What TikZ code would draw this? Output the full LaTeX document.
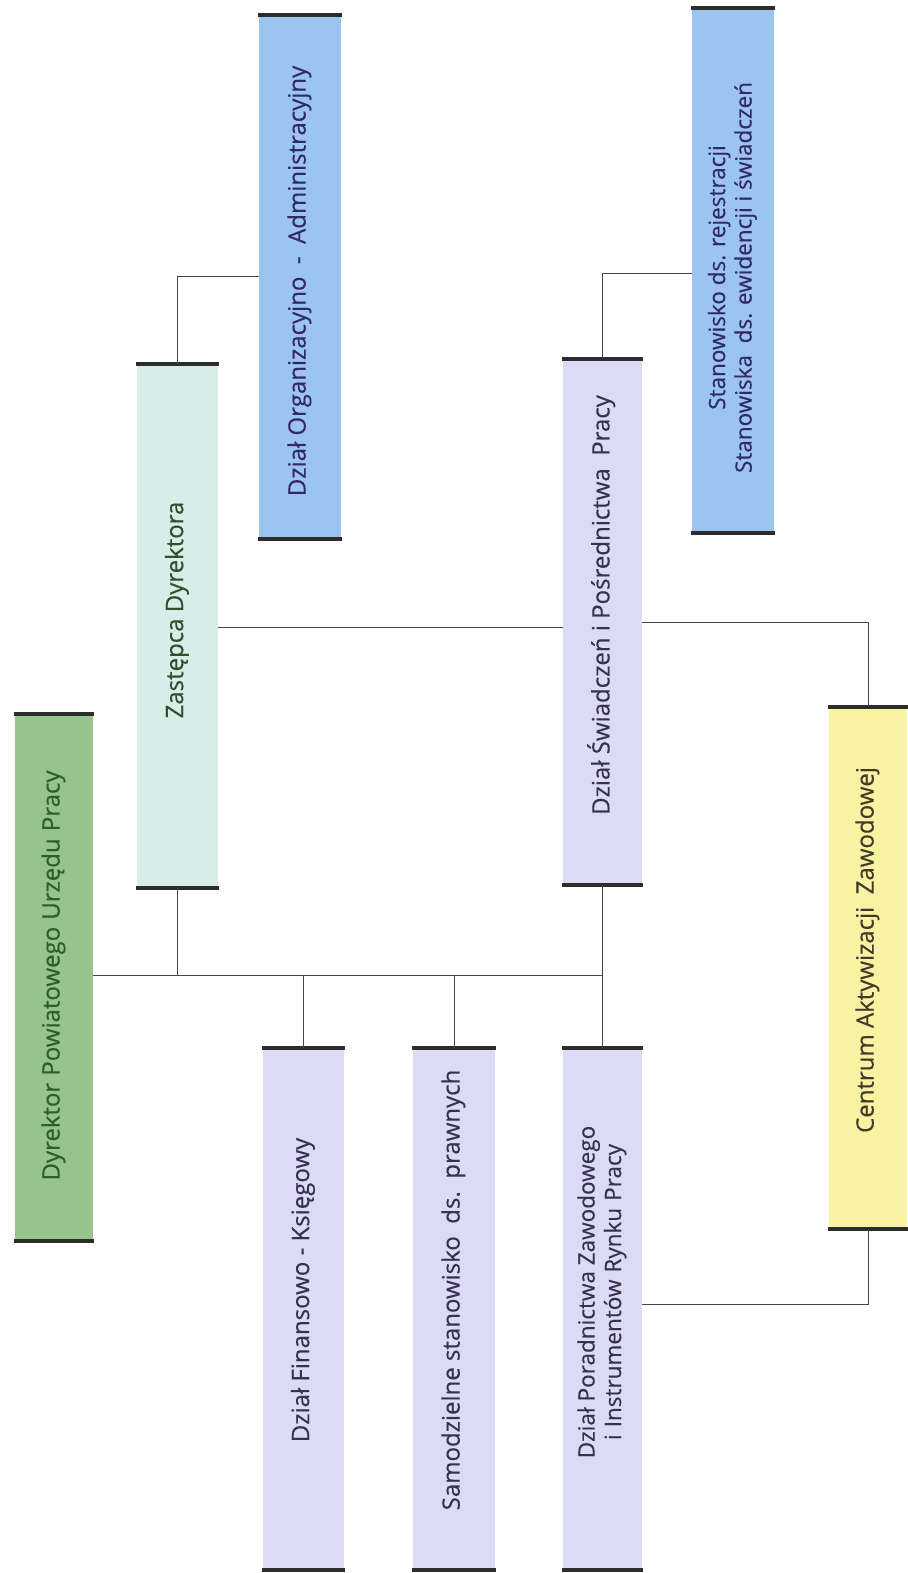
\documentclass[tikz,border=0pt]{standalone}
\usepackage{fontspec}
\setmainfont{Open Sans}[UprightFeatures={FakeBold=0.35}]
\usepackage{graphicx}
\definecolor{gfill}{RGB}{150,196,140}
\definecolor{gtext}{RGB}{45,95,45}
\definecolor{zfill}{RGB}{216,237,231}
\definecolor{ztext}{RGB}{45,80,45}
\definecolor{bfill}{RGB}{156,196,240}
\definecolor{btext}{RGB}{50,42,100}
\definecolor{lfill}{RGB}{219,219,246}
\definecolor{ltext}{RGB}{55,48,80}
\definecolor{yfill}{RGB}{248,243,162}
\definecolor{ytext}{RGB}{65,58,42}
\definecolor{barc}{RGB}{45,45,45}
\definecolor{linec}{RGB}{70,70,70}
\tikzset{
  unit/.style={rectangle, inner sep=0pt, draw=none},
  lbl/.style={inner sep=0pt, font=\fontsize{24}{28}\selectfont},
  lbltwo/.style={inner sep=0pt, font=\fontsize{22.5}{26.5}\selectfont},
  bar/.style={barc, line width=4.5pt},
  conn/.style={linec, line width=0.8pt}
}
\newlength\natw
\newcommand{\spanline}[2]{\settowidth{\natw}{#2}\ifdim\natw<#1pt\makebox[#1pt][s]{#2}\else#2\fi}
\newcommand{\vt}[1]{\rotatebox{90}{\begin{tabular}{@{}c@{}}#1\end{tabular}}}
\begin{document}
\begin{tikzpicture}[x=1pt,y=-1pt]
\useasboundingbox (0,0) rectangle (907,1573);
% boxes
\node[unit, fill=gfill, minimum width=78pt, minimum height=527pt] (dyr) at (54,977.5) {};
\node[unit, fill=zfill, minimum width=81pt, minimum height=524pt] (zas) at (177.5,626) {};
\node[unit, fill=bfill, minimum width=82pt, minimum height=524pt] (org) at (300,277) {};
\node[unit, fill=lfill, minimum width=79pt, minimum height=526pt] (swi) at (602.5,622) {};
\node[unit, fill=bfill, minimum width=82pt, minimum height=525pt] (sta) at (733,270.5) {};
\node[unit, fill=yfill, minimum width=78pt, minimum height=522pt] (cen) at (868,968) {};
\node[unit, fill=lfill, minimum width=81pt, minimum height=522pt] (fin) at (303.5,1309) {};
\node[unit, fill=lfill, minimum width=82pt, minimum height=522pt] (sam) at (454,1309) {};
\node[unit, fill=lfill, minimum width=79pt, minimum height=522pt] (por) at (602.5,1309) {};
% labels
\node[lbl, text=gtext] (dyrT) at ([yshift=2pt]dyr.center) {\vt{\spanline{410}{Dyrektor Powiatowego Urzędu Pracy}}};
\node[lbl, text=ztext] (zasT) at ([yshift=16pt]zas.center) {\vt{\spanline{205}{Zastępca Dyrektora}}};
\node[lbl, text=btext] (orgT) at ([yshift=-4pt]org.center) {\vt{Dział Organizacyjno\ \ -\ \ Administracyjny}};
\node[lbl, text=ltext] (swiT) at ([yshift=17pt]swi.center) {\vt{\spanline{395}{Dział Świadczeń i Pośrednictwa\ \ Pracy}}};
\node[lbltwo, text=btext] (staT) at ([yshift=-7pt]sta.center) {\vt{Stanowisko ds. rejestracji\\Stanowiska\ \ ds. ewidencji i świadczeń}};
\node[lbl, text=ytext] (cenT) at ([yshift=18pt]cen.center) {\vt{\spanline{326}{Centrum Aktywizacji\ \ Zawodowej}}};
\node[lbl, text=ltext] (finT) at ([yshift=19pt]fin.center) {\vt{\spanline{300}{Dział Finansowo - Księgowy}}};
\node[lbl, text=ltext] (samT) at ([yshift=19pt]sam.center) {\vt{\spanline{395}{Samodzielne stanowisko\ \ ds.\ \ prawnych}}};
\node[lbltwo, text=ltext] (porT) at ([yshift=17pt]por.center) {\vt{\spanline{328}{Dział Poradnictwa Zawodowego}\\\spanline{296}{i Instrumentów Rynku Pracy}}};
\foreach \n in {dyr,zas,org,swi,sta,cen,fin,sam,por}{
  \draw[bar] ([xshift=-1pt]\n.north west) -- ([xshift=1pt]\n.north east);
  \draw[bar] ([xshift=-1pt]\n.south west) -- ([xshift=1pt]\n.south east);
}
% main bus
\coordinate (busL) at (dyr.east |- 0,975);
\coordinate (busR) at (602.5,975);
\draw[conn] (busL) -- (busR);
\draw[conn] (zas.south) -- (zas.south |- busL);
\draw[conn] (swi.south) -- (por.north);
\draw[conn] (fin.north) -- (fin.north |- busL);
\draw[conn] (sam.north) -- (sam.north |- busL);
% Zastepca to Organizacyjno
\draw[conn] (zas.north) |- (org.west |- 0,276);
% Zastepca to Swiadczen
\draw[conn] (zas.east |- 0,627) -- (swi.west |- 0,627);
% Swiadczen to Centrum
\draw[conn] (swi.east |- 0,622) -| (cen.north);
% Swiadczen to Stanowisko
\draw[conn] (swi.north) |- (sta.west |- 0,273);
% Poradnictwa to Centrum
\draw[conn] (por.east |- 0,1304) -| (cen.south);
\end{tikzpicture}
\end{document}
